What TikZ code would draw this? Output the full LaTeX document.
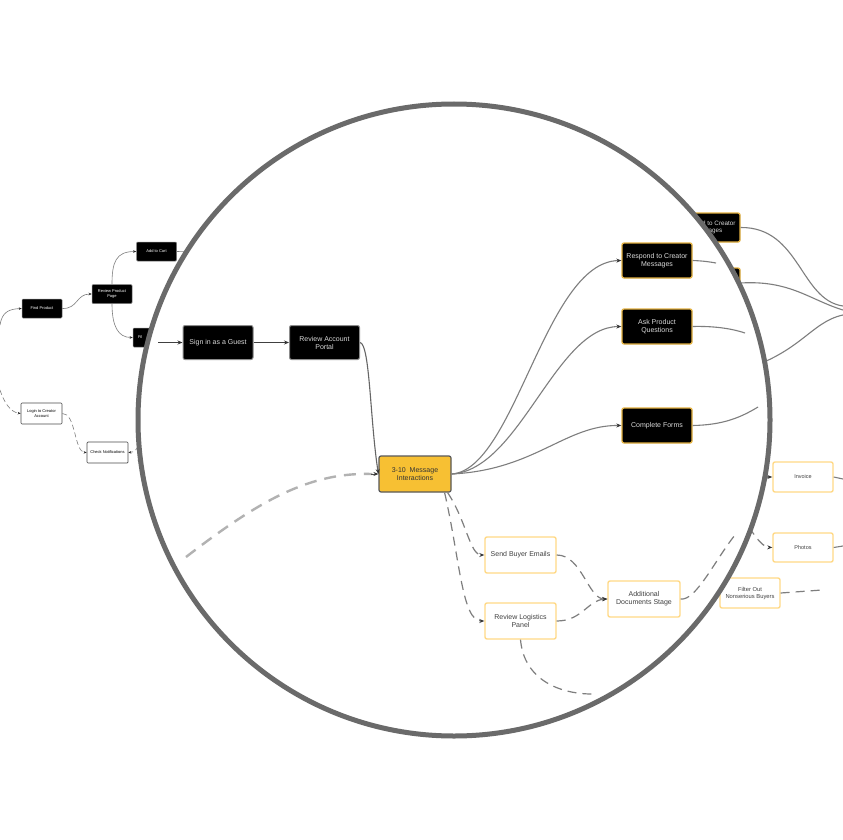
\documentclass[tikz,border=0pt]{standalone}
\usepackage{fontspec}
\setmainfont{Liberation Sans}
\usetikzlibrary{arrows.meta}
\definecolor{ygold}{HTML}{F7C033}
\definecolor{ybord}{HTML}{E2B040}
\definecolor{ylite}{HTML}{FFD987}
\definecolor{ringc}{HTML}{6A6A6A}
\definecolor{linec}{HTML}{7E7E7E}
\tikzset{
  tip/.style={-{Stealth[length=5pt,width=4pt,color=black!80]}},
  smalltip/.style={-{Stealth[length=3pt,width=2.5pt,color=black!85]}},
  conn/.style={draw=linec, line width=1.1pt},
  sconn/.style={draw=linec, line width=0.6pt},
  dconn/.style={draw=linec, line width=1.2pt, dash pattern=on 9pt off 6pt},
  sdconn/.style={draw=linec, line width=0.6pt, dash pattern=on 5pt off 3pt},
  bigdash/.style={draw=black!30, line width=2.4pt, dash pattern=on 12pt off 8pt},
  sblk/.style={fill=black, draw=black!50, line width=0.5pt, rounded corners=1pt, text=white,
    font=\fontsize{4}{4.6}\selectfont, align=center, minimum width=40pt, minimum height=19pt, inner sep=1pt},
  swht/.style={fill=white, draw=black!70, line width=0.7pt, rounded corners=1pt, text=black,
    font=\fontsize{4}{4.6}\selectfont, align=center, minimum width=41pt, minimum height=21pt, inner sep=1pt},
  bblk/.style={fill=black, draw=black!45, line width=1pt, rounded corners=2pt, text=white!85!black,
    font=\fontsize{7}{8}\selectfont, align=center, minimum width=70pt, minimum height=34pt, inner sep=1pt},
  yblk/.style={fill=black, draw=ybord, line width=1.3pt, rounded corners=2pt, text=white!85!black,
    font=\fontsize{7}{8}\selectfont, align=center, minimum width=70pt, minimum height=35pt, inner sep=1pt},
  ywht/.style={fill=white, draw=ylite, line width=1.4pt, rounded corners=2pt, text=black!75,
    font=\fontsize{7}{8}\selectfont, align=center, minimum width=71pt, minimum height=36pt, inner sep=1pt},
  ymain/.style={fill=ygold, draw=black!65, line width=1.2pt, rounded corners=2pt, text=black!80,
    font=\fontsize{7}{8}\selectfont, align=center, minimum width=72pt, minimum height=36pt, inner sep=1pt},
}
\begin{document}
\begin{tikzpicture}[x=1pt,y=-1pt]
\useasboundingbox (0,0) rectangle (843,840);
\fill[white] (0,0) rectangle (843,840);

% ---------- outside (small scale) ----------
\node[sblk] (fp) at (42,308.5) {Find Product};
\node[sblk] (rpp) at (112,294) {Review Product\\Page};
\node[sblk] (atc) at (156.5,251.5) {Add to Cart};
\node[sblk, text width=30pt, align=left, inner xsep=5pt] (fil) at (153,337.5) {Fil};
\node[swht] (lca) at (41.5,413.5) {Login to Creator\\Account};
\node[swht] (cn) at (107.5,452.5) {Check Notifications};
\coordinate (lin1) at (0,325);
\coordinate (lin2) at (0,390);
\draw[sconn, smalltip] (lin1) .. controls (2,312) and (9,309) .. (fp.west);
\draw[sdconn, smalltip] (lin2) .. controls (4,402) and (10,412) .. (lca.west);
\draw[sconn, smalltip] (fp.east) .. controls (78,309) and (76,294) .. (rpp.west);
\draw[sconn, smalltip] (rpp.north) .. controls (112,262) and (116,251.5) .. (atc.west);
\draw[sconn, smalltip] (rpp.south) .. controls (112,326) and (118,337.5) .. (fil.west);
\coordinate (atcout) at (200,252);
\draw[sconn] (atc.east) -- (atcout);
\draw[sdconn, smalltip] (lca.east) .. controls (76,413) and (74,452) .. (cn.west);
\coordinate (cnin) at (150,425);
\draw[sdconn, smalltip] (cnin) .. controls (140,442) and (138,452) .. (cn.east);
\coordinate (cnlo1) at (138,460);
\coordinate (cnlo2) at (150,490);
\draw[sconn] (cnlo1) -- (cnlo2);

% right outside
\node[yblk, minimum width=64pt, minimum height=29pt, font=\fontsize{6.3}{7}\selectfont] (r1) at (708,227.5) {Respond to Creator\\Messages};
\node[yblk, minimum width=64pt, minimum height=30pt] (r2) at (708,283) {};
\coordinate (r3) at (735,372);
\coordinate (m1) at (843,306);
\coordinate (m2) at (843,310);
\coordinate (m3) at (843,315);
\draw[conn] (r1.east) .. controls (800,227) and (800,300) .. (m1);
\draw[conn] (r2.east) .. controls (790,280) and (810,300) .. (m2);
\draw[conn] (r3) .. controls (800,355) and (810,322) .. (m3);
\node[ywht, minimum width=60pt, minimum height=30pt, font=\fontsize{5.5}{6.5}\selectfont] (inv) at (803,477) {Invoice};
\node[ywht, minimum width=60pt, minimum height=29pt, font=\fontsize{5.5}{6.5}\selectfont] (ph) at (803,547.5) {Photos};
\node[ywht, minimum width=60pt, minimum height=30pt, font=\fontsize{5.8}{7}\selectfont] (fo) at (750,593) {Filter Out\\Nonserious Buyers};
\coordinate (invin) at (750,477);
\coordinate (invout) at (843,479);
\coordinate (phin) at (740,515);
\coordinate (phout) at (843,546);
\coordinate (foout) at (822,590);
\draw[conn, tip] (invin) -- (inv.west);
\draw[conn] (inv.east) -- (invout);
\draw[dconn, tip] (phin) .. controls (752,530) and (760,547) .. (ph.west);
\draw[conn] (ph.east) -- (phout);
\draw[dconn] (fo.east) -- (foout);

% ---------- lens ----------
\coordinate (lc) at (454,420);
\fill[white] (lc) circle (316);
\begin{scope}
\clip (lc) circle (316);
\node[bblk] (sg) at (218,342.5) {Sign in as a Guest};
\node[bblk] (rap) at (324.5,342.5) {Review Account\\Portal};
\node[ymain] (ym) at (415,474) {3-10 ~Message\\Interactions};
\node[yblk] (resp) at (657,260.5) {Respond to Creator\\Messages};
\node[yblk] (ask) at (657,326.5) {Ask Product\\Questions};
\node[yblk] (cf) at (657,425.5) {Complete Forms};
\node[ywht] (sbe) at (520.5,555) {Send Buyer Emails};
\node[ywht] (rlp) at (520.5,621) {Review Logistics\\Panel};
\node[ywht, minimum width=72pt] (ads) at (644,599) {Additional\\Documents Stage};

\coordinate (sgin) at (158,342.5);
\draw[conn, draw=black!75, tip] (sgin) -- (sg.west);
\draw[conn, draw=black!75, tip] (sg.east) -- (rap.west);
\draw[conn, draw=black!60, tip] (rap.east) .. controls (370,344) and (370,420) .. (ym.west);
\coordinate (bd) at (186,557);
\draw[bigdash] (bd) .. controls (260,500) and (310,472) .. ([xshift=-6pt]ym.west);
\draw[draw=black!70, line width=1pt, tip] ([xshift=-7pt]ym.west) -- (ym.west);

\draw[conn, tip] (ym.east) .. controls (515,470) and (545,262) .. (resp.west);
\draw[conn, tip] (ym.east) .. controls (520,470) and (555,327) .. (ask.west);
\draw[conn, tip] (ym.east) .. controls (535,470) and (565,425) .. (cf.west);
\coordinate (respout) at (716,263);
\coordinate (askout) at (745,333);
\coordinate (cfout) at (758,407);
\draw[conn] (resp.east) .. controls (705,261) and (710,262) .. (respout);
\draw[conn] (ask.east) .. controls (712,326) and (730,328) .. (askout);
\draw[conn] (cf.east) .. controls (722,425) and (740,418) .. (cfout);

\draw[dconn, tip] ([xshift=-4pt]ym.south east) .. controls (466,520) and (470,555) .. (sbe.west);
\draw[dconn, tip] ([xshift=-7pt]ym.south east) .. controls (460,560) and (462,621) .. (rlp.west);
\draw[dconn, tip] (sbe.east) .. controls (582,555) and (588,599) .. (ads.west);
\draw[dconn, tip] (rlp.east) .. controls (582,621) and (588,600) .. (ads.west);
\coordinate (rlpout) at (592,694);
\draw[dconn] (rlp.south) .. controls (524,680) and (560,694) .. (rlpout);
\coordinate (adsout) at (735,535);
\draw[dconn] (ads.east) .. controls (696,601) and (715,560) .. (adsout);
\end{scope}
\draw[ringc, line width=5pt] (lc) circle (316);
\end{tikzpicture}
\end{document}
